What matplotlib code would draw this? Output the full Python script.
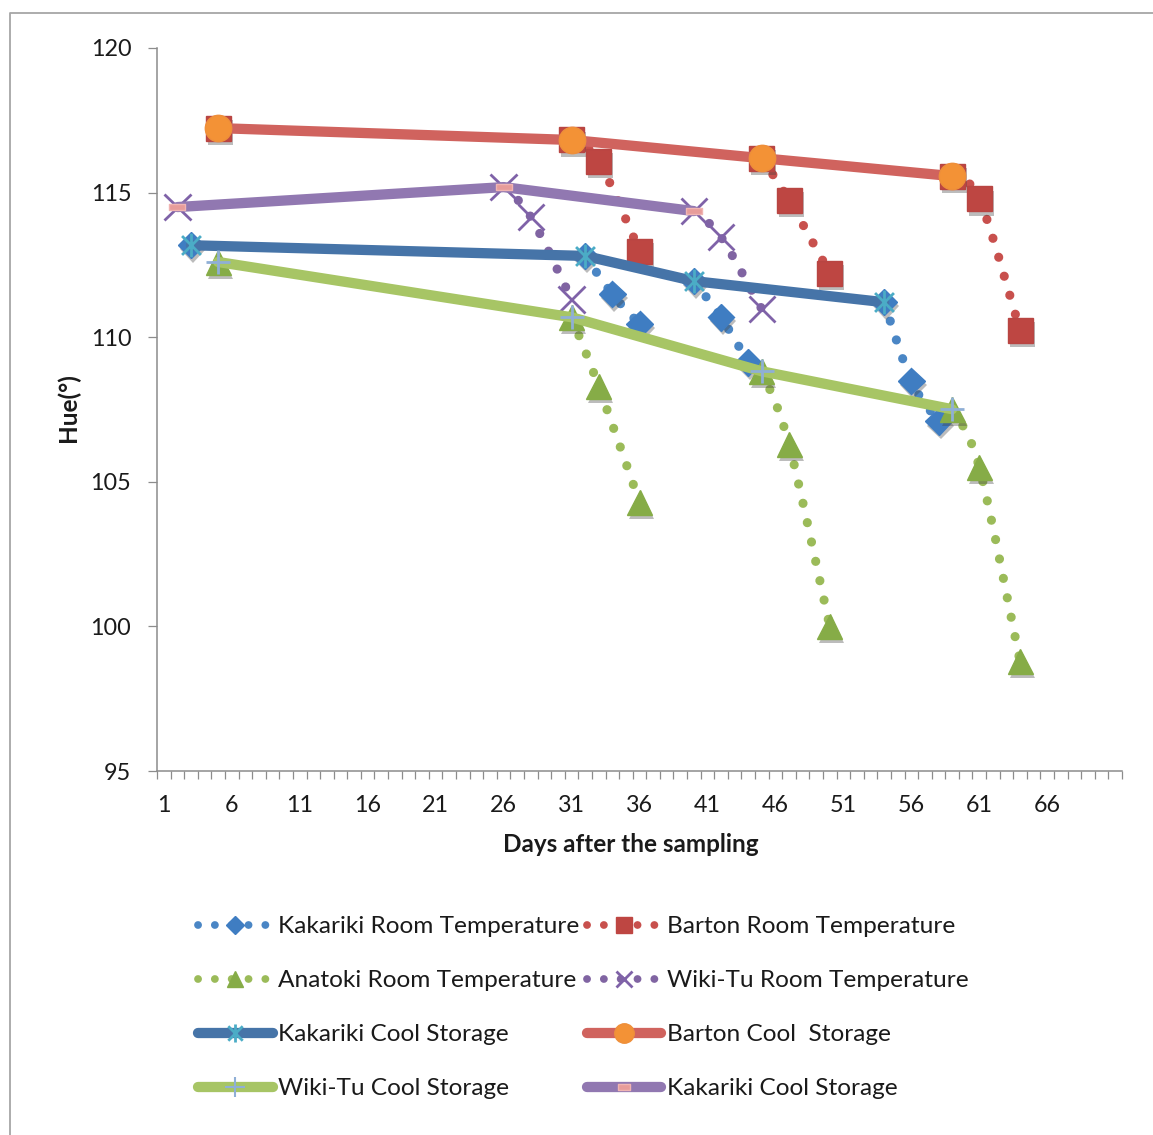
import numpy as np
import matplotlib
matplotlib.use("Agg")
import matplotlib.pyplot as plt
from matplotlib.path import Path
from matplotlib.patches import PathPatch
from matplotlib.lines import Line2D
from matplotlib import patheffects as pe

plt.rcParams['font.family'] = ['Lato', 'DejaVu Sans']

# ---- data -------------------------------------------------------------
nan = np.nan

# room temperature series (NaN separates the separate transfer runs)
kakariki_rt_days = [3, nan, 32, 34, 36, nan, 40, 42, 44, nan, 54, 56, 58]
kakariki_rt_hue = [113.18, nan, 112.81, 111.49, 110.45, nan, 111.94, 110.69, 109.13, nan, 111.21, 108.48, 107.09]

barton_rt_days = [5, nan, 31, 33, 36, nan, 45, 47, 50, nan, 59, 61, 64]
barton_rt_hue = [117.23, nan, 116.82, 116.09, 112.98, nan, 116.19, 114.74, 112.21, nan, 115.57, 114.78, 110.24]

anatoki_rt_days = [5, nan, 31, 33, 36, nan, 45, 47, 50, nan, 59, 61, 64]
anatoki_rt_hue = [112.60, nan, 110.69, 108.30, 104.29, nan, 108.82, 106.30, 100.00, nan, 107.51, 105.50, 98.79]

wikitu_rt_days = [2, nan, 26, 28, 31, nan, 40, 42, 45]
wikitu_rt_hue = [114.50, nan, 115.19, 114.16, 111.31, nan, 114.36, 113.46, 110.97]

# cool storage series
kakariki_cool_days = [3, 32, 40, 54]
kakariki_cool_hue = [113.18, 112.81, 111.94, 111.21]

barton_cool_days = [5, 31, 45, 59]
barton_cool_hue = [117.23, 116.82, 116.19, 115.57]

wikitu_cool_days = [5, 31, 45, 59]
wikitu_cool_hue = [112.60, 110.69, 108.82, 107.51]

kakariki_cool2_days = [2, 26, 40]
kakariki_cool2_hue = [114.50, 115.19, 114.36]

x_tick_labels = [str(d) for d in range(1, 67, 5)]
y_ticks = [95, 100, 105, 110, 115, 120]

# ---- styling ----------------------------------------------------------
W, H = 1153, 1135
fig = plt.figure(figsize=(W / 100, H / 100), dpi=100)
ax = fig.add_axes([157 / W, 1 - 771 / H, (1122 - 157) / W, (771 - 48) / H])

FS_TICK = 16.8
FS_TITLE = 17.5
FS_LEG = 17.6
DOT_LW = 6.6
DOT_STYLE = (0, (0.01, 2.15))
THICK_LW = 7.4
TEXT_C = '#1a1a1a'

shadow = [pe.SimplePatchShadow(offset=(1.5, -3), shadow_rgbFace=(0.25, 0.25, 0.25), alpha=0.35),
          pe.Normal()]

asterisk = Path([(-1, -1), (1, 1), (-1, 1), (1, -1), (0, -1.25), (0, 1.25)],
                [Path.MOVETO, Path.LINETO, Path.MOVETO, Path.LINETO, Path.MOVETO, Path.LINETO])
minus_box = Path([(-1, -0.42), (1, -0.42), (1, 0.42), (-1, 0.42), (-1, -0.42)],
                 [Path.MOVETO, Path.LINETO, Path.LINETO, Path.LINETO, Path.CLOSEPOLY])


def smooth_segments(days, vals):
    """Split a series on NaN and build a smoothed (Bezier) path per run."""
    days = np.asarray(days, float)
    vals = np.asarray(vals, float)
    ok = ~np.isnan(days)
    runs, cur = [], []
    for d, v, good in zip(days, vals, ok):
        if good:
            cur.append((d, v))
        else:
            if cur:
                runs.append(cur)
            cur = []
    if cur:
        runs.append(cur)
    verts, codes = [], []
    for run in runs:
        pts = np.array(run)
        n = len(pts)
        if n < 2:
            continue
        verts.append(pts[0]); codes.append(Path.MOVETO)
        for i in range(n - 1):
            p0 = pts[i - 1] if i > 0 else pts[i]
            p1, p2 = pts[i], pts[i + 1]
            p3 = pts[i + 2] if i + 2 < n else pts[i + 1]
            verts += [p1 + (p2 - p0) / 6.0, p2 - (p3 - p1) / 6.0, p2]
            codes += [Path.CURVE4] * 3
    return Path(verts, codes)


def room_series(days, vals, color, marker, ms, mfc, mec, mew=1.0):
    patch = PathPatch(smooth_segments(days, vals), fill=False, edgecolor=color,
                      lw=DOT_LW, linestyle=DOT_STYLE, capstyle='round',
                      transform=ax.transData, zorder=2)
    ax.add_patch(patch)
    ax.plot(days, vals, linestyle='none', marker=marker, ms=ms, mfc=mfc, mec=mec,
            mew=mew, zorder=3, path_effects=shadow)


def cool_series(days, vals, color, marker, ms, mfc, mec, mew=1.0, z=4):
    ax.plot(days, vals, color=color, lw=THICK_LW, solid_capstyle='round',
            solid_joinstyle='round', zorder=z)
    ax.plot(days, vals, linestyle='none', marker=marker, ms=ms, mfc=mfc, mec=mec,
            mew=mew, zorder=z + 0.5)


BLUE_D = '#3F7DC2'
RED_S = '#BE4642'
GREEN_T = '#86AC47'
PURPLE_X = '#7F62A8'

room_series(kakariki_rt_days, kakariki_rt_hue, '#4A86C5', 'D', 13.5, BLUE_D, BLUE_D)
room_series(barton_rt_days, barton_rt_hue, '#C8504D', 's', 18, RED_S, '#B84542')
room_series(anatoki_rt_days, anatoki_rt_hue, '#9BBB59', '^', 18, GREEN_T, GREEN_T)
room_series(wikitu_rt_days, wikitu_rt_hue, '#8064A2', 'x', 19, PURPLE_X, PURPLE_X, mew=2.0)

cool_series(kakariki_cool_days, kakariki_cool_hue, '#4674A8', asterisk, 17, 'none', '#4BACC6', mew=2.0, z=4)
cool_series(barton_cool_days, barton_cool_hue, '#D0635E', 'o', 19, '#F39236', '#EE8F3A', z=5)
cool_series(wikitu_cool_days, wikitu_cool_hue, '#A7C565', '+', 17, 'none', '#8FAFD6', mew=2.0, z=6)
cool_series(kakariki_cool2_days, kakariki_cool2_hue, '#9178B1', minus_box, 11.5, '#E79C9A', '#F0B4B2', z=7)

# ---- axes -------------------------------------------------------------
ax.set_xlim(0.5, 71.5)
ax.set_ylim(95, 120)
ax.set_xticks(range(1, 67, 5))
ax.set_xticklabels(x_tick_labels)
ax.set_xticks(np.arange(0.5, 72, 1.0), minor=True)
ax.set_yticks(y_ticks)
ax.set_yticklabels([str(v) for v in y_ticks])

for side in ('top', 'right'):
    ax.spines[side].set_visible(False)
for side in ('left', 'bottom'):
    ax.spines[side].set_color('#8C8C8C')
    ax.spines[side].set_linewidth(1.1)

ax.tick_params(axis='x', which='major', length=0, pad=17, labelsize=FS_TICK, labelcolor=TEXT_C)
ax.tick_params(axis='x', which='minor', length=5.5, width=0.9, color='#8C8C8C', direction='out')
ax.tick_params(axis='y', which='major', length=6.5, width=0.9, color='#8C8C8C', direction='out',
               pad=12, labelsize=FS_TICK, labelcolor=TEXT_C)

ax.set_xlabel('Days after the sampling', fontsize=FS_TITLE, fontweight='bold', color=TEXT_C)
ax.xaxis.set_label_coords((631 - 157) / 965, (771 - 844) / 723)
ax.xaxis.label.set_va('center')
ax.set_ylabel('Hue(°)', fontsize=FS_TITLE, fontweight='bold', color=TEXT_C)
ax.yaxis.set_label_coords((68 - 157) / 965, (771 - 408) / 723)
ax.yaxis.label.set_va('center')

# ---- outer frame ------------------------------------------------------
fig.add_artist(Line2D([10 / W, 10 / W, 1.0], [0.0, 1 - 13 / H, 1 - 13 / H],
                      transform=fig.transFigure, color='#A6A6A6', lw=1.3))

# ---- legend -----------------------------------------------------------
def dotted_handle(color, marker, ms, mfc, mec, mew=1.0):
    return Line2D([], [], color=color, lw=DOT_LW * 0.85, linestyle=DOT_STYLE,
                  dash_capstyle='round', marker=marker, ms=ms, mfc=mfc, mec=mec, mew=mew)


def solid_handle(color, marker, ms, mfc, mec, mew=1.0):
    return Line2D([], [], color=color, lw=THICK_LW, solid_capstyle='round',
                  marker=marker, ms=ms, mfc=mfc, mec=mec, mew=mew)


h_kak_rt = dotted_handle('#4A86C5', 'D', 9, BLUE_D, BLUE_D)
h_bar_rt = dotted_handle('#C8504D', 's', 12, RED_S, RED_S)
h_ana_rt = dotted_handle('#9BBB59', '^', 12, GREEN_T, GREEN_T)
h_wik_rt = dotted_handle('#8064A2', 'x', 12, PURPLE_X, PURPLE_X, mew=2.0)
h_kak_c = solid_handle('#4674A8', asterisk, 13, 'none', '#4BACC6', mew=2.0)
h_bar_c = solid_handle('#D0635E', 'o', 14, '#F39236', '#EE8F3A')
h_wik_c = solid_handle('#A7C565', '+', 15, 'none', '#8FAFD6', mew=1.5)
h_kak_c2 = solid_handle('#9178B1', minus_box, 9, '#E79C9A', '#F0B4B2')

handles = [h_kak_rt, h_ana_rt, h_kak_c, h_wik_c, h_bar_rt, h_wik_rt, h_bar_c, h_kak_c2]
labels = ['Kakariki Room Temperature', 'Anatoki Room Temperature', 'Kakariki Cool Storage',
          'Wiki-Tu Cool Storage', 'Barton Room Temperature', 'Wiki-Tu Room Temperature',
          'Barton Cool  Storage', 'Kakariki Cool Storage']

leg = fig.legend(handles, labels, ncol=2, loc='upper left',
                 bbox_to_anchor=(198 / W, 1 - 916 / H), frameon=False, fontsize=FS_LEG,
                 handlelength=3.05, handletextpad=0.22, columnspacing=0.3,
                 labelspacing=1.35, borderpad=0, borderaxespad=0, numpoints=1)
for t in leg.get_texts():
    t.set_color(TEXT_C)

fig.savefig('out.png', dpi=100, facecolor='white')
